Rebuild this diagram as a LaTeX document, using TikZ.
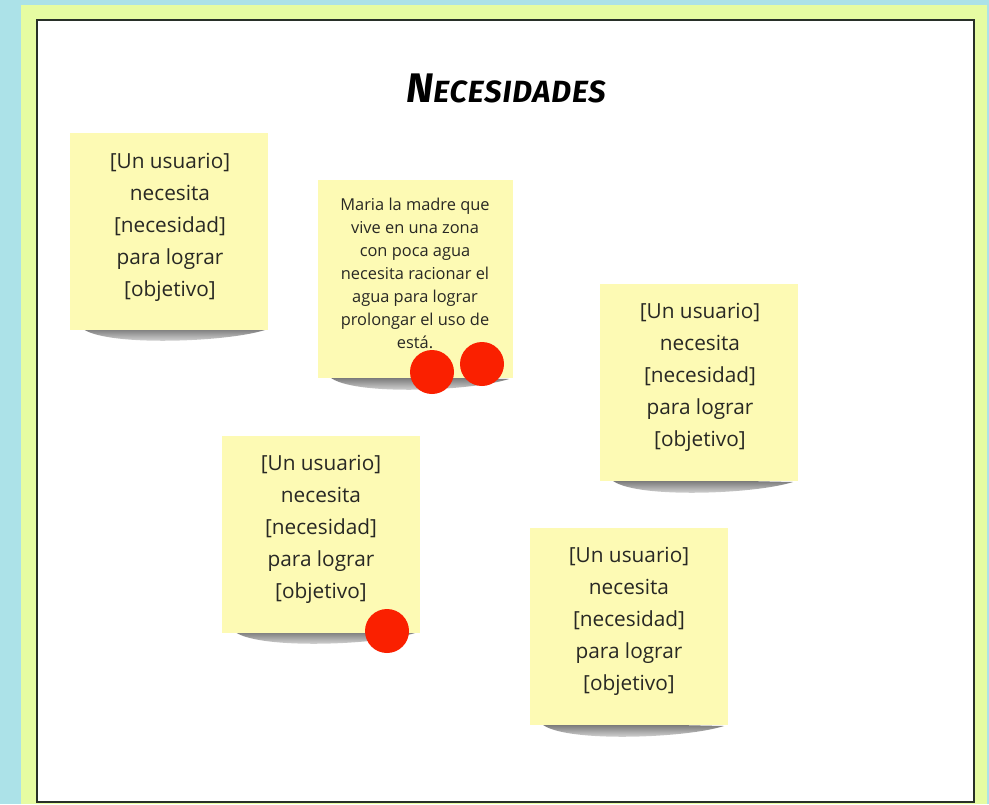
\documentclass[tikz,border=0pt]{standalone}
\usepackage{fontspec}
\setmainfont{Open Sans}
\newfontfamily\titlefont[LetterSpace=3]{Fira Sans}
\definecolor{bgblue}{RGB}{172,226,232}
\definecolor{frameyellow}{RGB}{230,252,162}
\definecolor{stickyyellow}{RGB}{253,250,180}
\definecolor{dotred}{RGB}{250,32,0}
\definecolor{inkgray}{RGB}{40,40,36}
\definecolor{borderdark}{RGB}{40,48,40}
\newcommand\stickyshadow[3]{% left x, bottom y, width
  \shade[top color=black!75, bottom color=white, opacity=0.8]
    (#1+10,#2-3) .. controls (#1+25,#2+18) and (#1+#3-45,#2+14) .. (#1+#3-4,#2+1) -- cycle;}
\begin{document}
\begin{tikzpicture}[x=0.75pt,y=-0.75pt,
  sticky/.style={fill=stickyyellow, draw=none, minimum width=148.5pt, minimum height=147.75pt, inner sep=0pt, anchor=north west},
  bigtext/.style={text=inkgray, align=center, font=\fontsize{15.6pt}{24pt}\selectfont},
  smalltext/.style={text=inkgray, align=center, font=\fontsize{12.3pt}{17.25pt}\selectfont},
  reddot/.style={circle, fill=dotred, draw=none, minimum size=33pt, inner sep=0pt}]
\useasboundingbox (0,0) rectangle (989,804);
% backgrounds
\fill[bgblue] (0,0) rectangle (989,804);
\fill[frameyellow] (21,5) rectangle (987,804);
\fill[white] (37,20) rectangle (974,802);
\draw[borderdark, line width=1.8pt] (37,20) rectangle (974,802);
% title
\node[inner sep=0pt] (title) at (506,88) {\titlefont\bfseries\itshape\fontsize{31pt}{31pt}\selectfont N\fontsize{23pt}{23pt}\selectfont ECESIDADES};
% shadows
\stickyshadow{70}{329}{199}
\stickyshadow{318}{378}{195}
\stickyshadow{600}{481}{197}
\stickyshadow{222}{632}{197}
\stickyshadow{530}{725}{198}
% stickies
\node[sticky] (s1) at (70,133) {};
\node[sticky, minimum width=146.25pt, minimum height=148.5pt] (s2) at (318,180) {};
\node[sticky] (s3) at (600,284) {};
\node[sticky] (s4) at (222,436) {};
\node[sticky] (s5) at (530,528) {};
% texts
\node[bigtext] (t1) at (170,227) {[Un usuario]\\necesita\\[0pt][necesidad]\\para lograr\\[0pt][objetivo]};
\node[smalltext] (t2) at (415,273) {Maria la madre que\\vive en una zona\\con poca agua\\necesita racionar el\\agua para lograr\\prolongar el uso de\\está.};
\node[bigtext] (t3) at (700,377) {[Un usuario]\\necesita\\[0pt][necesidad]\\para lograr\\[0pt][objetivo]};
\node[bigtext] (t4) at (321,529) {[Un usuario]\\necesita\\[0pt][necesidad]\\para lograr\\[0pt][objetivo]};
\node[bigtext] (t5) at (629,621) {[Un usuario]\\necesita\\[0pt][necesidad]\\para lograr\\[0pt][objetivo]};
% red dots
\node[reddot] (d1) at (432,372) {};
\node[reddot] (d2) at (482,364) {};
\node[reddot] (d3) at (387,631) {};
\end{tikzpicture}
\end{document}
